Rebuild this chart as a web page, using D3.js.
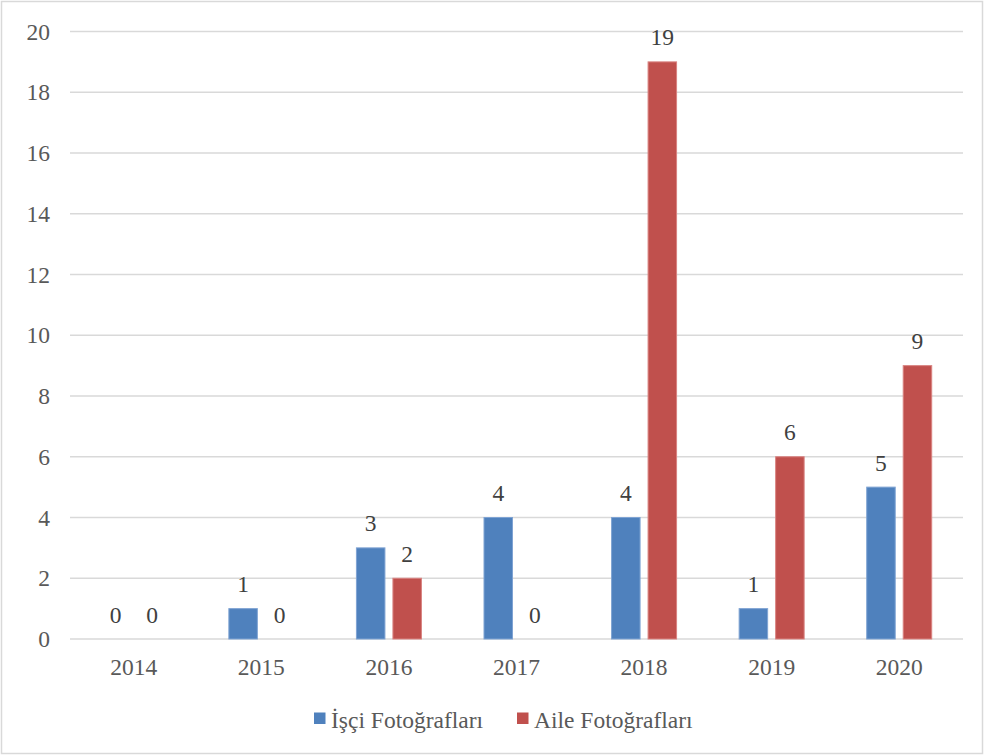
<!DOCTYPE html>
<html><head><meta charset="utf-8">
<script src="https://cdn.jsdelivr.net/npm/d3@7"></script>
<style>body{margin:0;background:#fff}svg{display:block}</style>
</head><body>
<script>
const years = ["2014","2015","2016","2017","2018","2019","2020"];
const isciValues = [0,1,3,4,4,1,5];
const aileValues = [0,0,2,0,19,6,9];
const seriesNames = ["İşçi Fotoğrafları","Aile Fotoğrafları"];
const seriesColors = ["#4f81bd","#c0504d"];
const seriesStrokes = ["#7fa3d3","#d98381"];
const yTicks = [0,2,4,6,8,10,12,14,16,18,20];

(function(){
const W=985,H=756;
const svg=d3.select("body").append("svg").attr("width",W).attr("height",H);
svg.append("rect").attr("x",1.5).attr("y",1.5).attr("width",W-4).attr("height",H-4)
  .attr("fill","#fff").attr("stroke","#d9d9d9").attr("stroke-width",1.5);

const pLeft=70,pRight=963,pTop=31.5,pBottom=639;
const x=d3.scaleBand().domain(years).range([pLeft,pRight]);
const y=d3.scaleLinear().domain([0,20]).range([pBottom,pTop]);
const font="Liberation Serif";
const fs=23.5;

svg.append("g").selectAll("line").data(yTicks).join("line")
  .attr("x1",pLeft).attr("x2",pRight).attr("y1",d=>y(d)).attr("y2",d=>y(d))
  .attr("stroke","#d9d9d9").attr("stroke-width",1.5);

svg.append("g").selectAll("text").data(yTicks).join("text")
  .attr("x",50).attr("y",d=>y(d)+8).attr("text-anchor","end")
  .style("font-family",font).style("font-size",fs+"px").attr("fill","#595959").text(d=>d);

svg.append("g").selectAll("text").data(years).join("text")
  .attr("x",d=>x(d)+x.bandwidth()/2).attr("y",675).attr("text-anchor","middle")
  .style("font-family",font).style("font-size",fs+"px").attr("fill","#595959").text(d=>d);

const barW=28.5, gap=8;
const series=[isciValues,aileValues];
series.forEach((vals,si)=>{
  const off = si===0 ? -gap/2-barW : gap/2;
  const g=svg.append("g");
  g.selectAll("rect").data(years).join("rect")
    .attr("x",(d)=>x(d)+x.bandwidth()/2+off)
    .attr("y",(d,i)=>y(vals[i]))
    .attr("width",barW)
    .attr("height",(d,i)=>pBottom-y(vals[i]))
    .attr("fill",seriesColors[si]).attr("stroke",seriesStrokes[si]).attr("stroke-width",1)
    .attr("display",(d,i)=>vals[i]===0?"none":null);
  g.selectAll("text").data(years).join("text")
    .attr("x",(d)=>x(d)+x.bandwidth()/2+off+barW/2)
    .attr("y",(d,i)=>y(vals[i])-16.5)
    .attr("text-anchor","middle").style("font-family",font).style("font-size",fs+"px")
    .attr("fill","#404040").text((d,i)=>vals[i]);
});

const legX=[314,517];
seriesNames.forEach((n,i)=>{
  svg.append("rect").attr("x",legX[i]).attr("y",712.5).attr("width",11.5).attr("height",11.5).attr("fill",seriesColors[i]);
  svg.append("text").attr("x",legX[i]+17).attr("y",728).style("font-family",font).style("font-size",fs+"px")
    .attr("fill","#595959").text(n);
});
})();
</script>
</body></html>
